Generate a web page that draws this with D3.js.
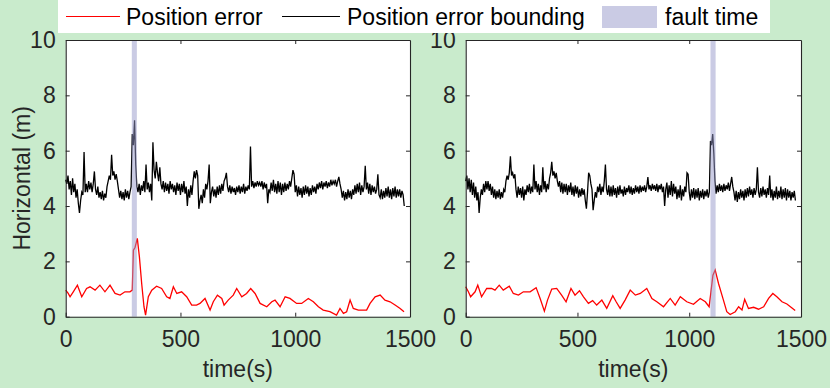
<!DOCTYPE html>
<html>
<head>
<meta charset="utf-8">
<script src="https://cdn.jsdelivr.net/npm/d3@7"></script>
<style>
  body { margin: 0; background: #c9ebcc; }
  svg text { font-family: "Liberation Sans", Arial, sans-serif; }
</style>
</head>
<body>
<div id="chart"></div>
<script>
"use strict";

// ---- data ----
var xTicks = [0, 500, 1000, 1500];
var yTicks = [0, 2, 4, 6, 8, 10];
var legendLabels = ["Position error", "Position error bounding", "fault time"];

var boundStep = 5; // seconds between bounding samples

// left panel, bounding (fault near 300 s)
var boundLeft = [
  4.95, 4.8, 5.1, 4.6, 4.9, 4.4, 5.0, 4.5, 4.8, 4.3,
  4.6, 4.1, 3.75, 4.2, 4.5, 4.4, 5.95, 4.5, 4.8, 4.5,
  4.9, 4.6, 4.85, 4.5, 4.8, 5.25, 4.6, 4.4, 4.7, 4.3,
  4.5, 4.25, 4.55, 4.2, 4.45, 4.3, 4.7, 4.9, 5.1, 4.95,
  5.85, 5.1, 5.25, 4.95, 5.15, 4.9, 4.6, 4.3, 4.55, 4.25,
  4.5, 4.2, 4.6, 4.3, 4.55, 4.25, 4.5, 4.7, 6.6, 6.2,
  7.1, 5.5, 4.7, 4.5, 4.8, 4.4, 4.75, 4.55, 4.9, 4.5,
  5.5, 4.6, 4.85, 4.5, 4.8, 4.2, 6.3, 5.3, 5.0, 5.6,
  5.2, 4.9, 5.4, 4.8, 4.6, 4.9, 4.5, 4.85, 4.55, 4.8,
  4.45, 4.9, 4.6, 4.8, 4.5, 4.75, 4.4, 4.85, 4.55, 4.8,
  4.4, 4.8, 4.5, 4.9, 4.45, 4.7, 4.0, 4.6, 4.3, 4.75,
  4.4, 4.9, 5.25, 5.0, 5.3, 5.1, 3.9, 4.2, 4.4, 4.1,
  4.6, 4.3, 4.8, 4.6, 4.9, 5.5, 4.1, 4.5, 4.7, 4.35,
  4.6, 4.3, 4.7, 4.4, 4.75, 4.45, 4.8, 4.55, 4.9, 5.0,
  5.2, 4.7, 4.5, 4.75, 4.45, 4.7, 4.5, 4.65, 4.4, 4.7,
  4.5, 4.75, 4.45, 4.7, 4.5, 4.8, 4.45, 4.7, 4.55, 4.75,
  4.6, 6.15, 4.7, 4.9, 4.65, 4.85, 4.7, 4.9, 4.75, 4.85,
  4.7, 4.9, 4.6, 4.85, 4.65, 4.8, 4.1, 4.6, 4.5, 4.85,
  4.55, 4.95, 4.5, 4.8, 4.45, 4.9, 4.5, 4.85, 4.4, 4.8,
  4.5, 4.85, 4.55, 4.8, 4.6, 4.9, 4.7, 5.0, 5.3, 5.15,
  4.5, 4.75, 4.35, 4.7, 4.4, 4.65, 4.3, 4.7, 4.4, 4.75,
  4.45, 4.7, 4.35, 4.65, 4.4, 4.75, 4.5, 4.7, 4.45, 4.8,
  4.6, 4.85, 4.65, 4.9, 4.6, 4.85, 4.7, 4.9, 4.65, 4.85,
  4.7, 4.95, 4.75, 4.9, 4.8, 4.95, 4.7, 4.9, 5.05, 4.8,
  4.6, 4.3, 4.55, 4.2, 4.5, 4.25, 4.6, 4.3, 4.55, 4.25,
  4.6, 4.4, 4.75, 4.45, 4.8, 4.5, 4.85, 4.4, 4.75, 4.5,
  4.7, 5.45, 4.6, 4.85, 4.45, 4.8, 4.4, 4.75, 4.5, 4.7,
  4.45, 4.6, 5.15, 4.4, 4.3, 4.6, 4.25, 4.55, 4.3, 4.65,
  4.35, 4.7, 4.3, 4.6, 4.25, 4.65, 4.35, 4.7, 4.3, 4.6,
  4.35, 4.6, 4.3, 4.55, 4.4, 4.0
];

// right panel, bounding (fault near 1100 s)
var boundRight = [
  4.9, 5.1, 4.6, 5.0, 4.5, 4.95, 4.4, 4.85, 4.3, 4.7,
  4.2, 4.5, 3.75, 4.3, 4.6, 4.4, 4.8, 4.5, 4.9, 4.6,
  4.9, 4.55, 4.8, 4.4, 4.7, 4.3, 4.6, 4.25, 4.55, 4.3,
  4.6, 4.25, 4.5, 4.3, 4.6, 4.5, 4.9, 5.1, 4.95, 5.2,
  5.8, 5.1, 5.2, 5.0, 5.15, 4.6, 4.3, 4.7, 4.4, 4.65,
  4.3, 4.7, 4.2, 4.6, 4.4, 4.75, 4.5, 4.8, 4.45, 4.7,
  4.5, 5.5, 4.6, 4.9, 4.5, 4.8, 4.4, 4.75, 4.5, 5.4,
  4.6, 4.9, 4.5, 4.8, 4.6, 5.0, 5.2, 5.6, 5.1, 5.25,
  5.0, 5.2, 4.9, 4.7, 4.9, 4.5, 4.85, 4.45, 4.8, 4.5,
  4.8, 4.4, 4.75, 4.5, 4.85, 4.4, 4.7, 4.35, 4.75, 4.45,
  4.7, 4.3, 4.6, 4.35, 4.65, 4.4, 4.6, 4.2, 3.9, 4.5,
  5.2, 5.1, 4.8, 4.6, 3.85, 4.2, 4.5, 4.3, 4.7, 4.5,
  4.8, 4.4, 4.7, 4.5, 4.9, 5.5, 4.6, 4.4, 4.75, 4.35,
  4.7, 4.35, 4.75, 4.4, 4.65, 4.3, 4.7, 4.4, 4.75, 4.45,
  4.6, 4.35, 4.7, 4.4, 4.65, 4.5, 4.75, 4.45, 4.7, 4.4,
  4.65, 4.45, 4.75, 4.5, 4.7, 4.45, 4.75, 4.5, 4.7, 4.55,
  4.75, 4.5, 4.7, 5.05, 4.6, 4.75, 4.55, 4.8, 4.6, 4.75,
  4.55, 4.8, 4.5, 4.75, 4.6, 4.8, 4.5, 4.7, 4.0, 4.6,
  4.85, 4.3, 4.75, 4.4, 4.9, 4.35, 4.8, 4.45, 4.7, 4.25,
  4.6, 4.3, 4.75, 4.2, 4.6, 4.35, 4.7, 4.5, 5.2, 5.15,
  4.5, 4.2, 4.6, 4.3, 4.65, 4.25, 4.6, 4.3, 4.65, 4.2,
  4.55, 4.3, 4.6, 4.25, 4.55, 4.35, 4.6, 4.3, 4.5, 6.35,
  6.2, 6.6, 5.9, 4.9, 4.45, 4.75, 4.5, 4.8, 4.55, 4.75,
  4.5, 4.8, 4.55, 4.75, 4.6, 4.85, 4.55, 4.8, 5.05, 4.7,
  4.5, 4.2, 4.55, 4.15, 4.5, 4.25, 4.6, 4.3, 4.55, 4.2,
  4.6, 4.3, 4.65, 4.35, 4.7, 4.4, 4.6, 4.3, 4.65, 4.4,
  4.6, 5.4, 4.5, 4.3, 4.65, 4.35, 4.7, 4.4, 4.6, 4.3,
  4.65, 4.4, 5.1, 4.3, 4.6, 4.2, 4.55, 4.3, 4.7, 4.25,
  4.55, 4.3, 4.7, 4.25, 4.6, 4.3, 4.65, 4.2, 4.6, 4.3,
  4.55, 4.2, 4.5, 4.3, 4.55, 4.2
];

var errTimeLeft = [
  0, 11, 19, 33, 51, 70, 91, 106, 128, 149, 171, 193, 215, 237, 258, 280, 290,
  295, 302, 312, 321, 331, 341, 348, 360, 375, 396, 418, 440, 454, 469, 484,
  505, 527, 549, 570, 585, 607, 629, 643, 661, 680, 690, 708, 730, 745, 767,
  788, 806, 825, 847, 876, 898, 912, 934, 956, 977, 1006, 1028, 1057, 1079,
  1101, 1122, 1151, 1180, 1195, 1210, 1224, 1239, 1253, 1275, 1297, 1311,
  1326, 1348, 1370, 1391, 1413, 1435, 1457, 1474
];
var errLeft = [
  0.96, 0.84, 0.72, 0.9, 1.14, 0.72, 1.02, 1.08, 0.96, 1.14, 0.9, 1.14, 0.84, 0.78, 0.9, 0.9, 0.96,
  2.4, 2.5, 2.83, 2.17, 1.2, 0.36, 0.06, 0.72, 0.96, 1.1, 1.02, 0.72, 0.66, 1.08, 0.84,
  0.9, 0.72, 0.42, 0.42, 0.48, 0.66, 0.24, 0.54, 0.78, 0.66, 0.42, 0.6, 0.78, 1.02, 0.72,
  0.84, 1.02, 0.84, 0.48, 0.36, 0.54, 0.6, 0.36, 0.72, 0.66, 0.48, 0.48, 0.66, 0.54,
  0.36, 0.24, 0.18, 0.06, 0.3, 0.12, 0.18, 0.6, 0.3, 0.24, 0.24, 0.24,
  0.48, 0.72, 0.78, 0.6, 0.54, 0.42, 0.3, 0.18
];

var errTimeRight = [
  0, 12, 22, 42, 54, 71, 94, 116, 131, 150, 168, 195, 213, 236, 258, 288, 315,
  333, 352, 366, 385, 407, 429, 449, 471, 489, 509, 527, 549, 568, 586, 609,
  631, 658, 673, 691, 713, 736, 759, 781, 810, 833, 855, 885, 915, 937, 960,
  989, 1019, 1049, 1072, 1089, 1098, 1106, 1116, 1131, 1153, 1168, 1183, 1206,
  1221, 1236, 1248, 1265, 1288, 1310, 1333, 1355, 1374, 1392, 1415, 1437, 1474
];
var errRight = [
  1.08, 0.9, 0.72, 0.9, 1.14, 0.72, 1.02, 1.02, 0.96, 1.14, 0.96, 1.1, 0.84, 0.78, 0.9, 0.9, 1.05,
  0.66, 0.2, 0.6, 1.0, 1.02, 0.78, 0.54, 1.02, 0.78, 0.94, 0.72, 0.48, 0.58, 0.42, 0.6,
  0.3, 0.76, 0.54, 0.3, 0.6, 0.96, 0.78, 0.84, 1.02, 0.66, 0.54, 0.36, 0.66, 0.42, 0.72,
  0.54, 0.45, 0.66, 0.54, 0.36, 0.96, 1.5, 1.69, 1.2, 0.6, 0.18, 0.08, 0.18,
  0.36, 0.24, 0.63, 0.3, 0.34, 0.27, 0.36, 0.66, 0.84, 0.72, 0.54, 0.46, 0.22
];

var faultLeft = [288, 310];
var faultRight = [1095, 1118];

// ---- layout ----
var width = 830,
    height = 388,
    plotTop = 40,
    plotBottom = 316.7,
    fontSize = 23,
    textColor = "#262626",
    bandColor = "#9598c9";

var svg = d3.select("#chart").append("svg")
    .attr("width", width)
    .attr("height", height);

svg.append("rect")
    .attr("width", width)
    .attr("height", height)
    .attr("fill", "#c9ebcc");

var panels = [
  { left: 65.7, right: 410, bound: boundLeft, errT: errTimeLeft, err: errLeft, fault: faultLeft, yLabel: true },
  { left: 465.7, right: 801, bound: boundRight, errT: errTimeRight, err: errRight, fault: faultRight, yLabel: false }
];

panels.forEach(function(p) {
  var x = d3.scaleLinear().domain([0, 1500]).range([p.left, p.right]);
  var y = d3.scaleLinear().domain([0, 10]).range([plotBottom, plotTop]);

  var g = svg.append("g");

  // white plot area
  g.append("rect")
      .attr("x", p.left)
      .attr("y", plotTop)
      .attr("width", p.right - p.left)
      .attr("height", plotBottom - plotTop)
      .attr("fill", "#fff");

  var boundLine = d3.line()
      .x(function(d, i) { return x(i * boundStep); })
      .y(function(d) { return y(d); });

  g.append("path")
      .datum(p.bound)
      .attr("d", boundLine)
      .attr("fill", "none")
      .attr("stroke", "#000")
      .attr("stroke-width", 1.3);

  var errLine = d3.line()
      .x(function(d, i) { return x(p.errT[i]); })
      .y(function(d) { return y(d); });

  g.append("path")
      .datum(p.err)
      .attr("d", errLine)
      .attr("fill", "none")
      .attr("stroke", "#ff0000")
      .attr("stroke-width", 1.3);

  // fault time band sits on top of the lines, half transparent
  g.append("rect")
      .attr("x", x(p.fault[0]))
      .attr("y", plotTop)
      .attr("width", x(p.fault[1]) - x(p.fault[0]))
      .attr("height", plotBottom - plotTop)
      .attr("fill", bandColor)
      .attr("opacity", 0.5);

  // axes, ticks point inwards like matlab
  var xAxis = d3.axisBottom(x).tickValues(xTicks).tickFormat(d3.format("d"))
      .tickSizeInner(-4).tickSizeOuter(0).tickPadding(14);
  var xTop = d3.axisTop(x).tickValues(xTicks.slice(1, 3)).tickSizeInner(-4).tickSizeOuter(0).tickFormat("");
  var yAxis = d3.axisLeft(y).tickValues(yTicks).tickSizeInner(-4).tickSizeOuter(0).tickPadding(10);
  var yRight = d3.axisRight(y).tickValues(yTicks.slice(1, 5)).tickSizeInner(-4).tickSizeOuter(0).tickFormat("");

  var axes = [
    g.append("g").attr("transform", "translate(0," + plotBottom + ")").call(xAxis),
    g.append("g").attr("transform", "translate(0," + plotTop + ")").call(xTop),
    g.append("g").attr("transform", "translate(" + p.left + ",0)").call(yAxis),
    g.append("g").attr("transform", "translate(" + p.right + ",0)").call(yRight)
  ];

  axes.forEach(function(a) {
    a.select(".domain").attr("stroke", textColor).attr("stroke-width", 1.1);
    a.selectAll(".tick line").attr("stroke", textColor);
    a.selectAll(".tick text")
        .attr("fill", textColor)
        .style("font-size", fontSize + "px")
        .style("font-family", '"Liberation Sans", Arial, sans-serif');
  });

  // x label
  g.append("text")
      .attr("x", (p.left + p.right) / 2)
      .attr("y", 377)
      .attr("text-anchor", "middle")
      .attr("fill", textColor)
      .style("font-size", fontSize + "px")
      .text("time(s)");

  if (p.yLabel) {
    g.append("text")
        .attr("transform", "translate(30," + (plotTop + plotBottom) / 2 + ")rotate(-90)")
        .attr("text-anchor", "middle")
        .attr("fill", textColor)
        .style("font-size", fontSize + "px")
        .text("Horizontal (m)");
  }
});

// ---- legend across the top ----
var legend = svg.append("g");

legend.append("rect")
    .attr("x", 58)
    .attr("y", 0)
    .attr("width", 712)
    .attr("height", 33)
    .attr("fill", "#fff");

var ly = 16.5;

legend.append("line")
    .attr("x1", 66).attr("x2", 120)
    .attr("y1", ly).attr("y2", ly)
    .attr("stroke", "#ff0000")
    .attr("stroke-width", 1);

legend.append("line")
    .attr("x1", 282).attr("x2", 340)
    .attr("y1", ly).attr("y2", ly)
    .attr("stroke", "#000")
    .attr("stroke-width", 1);

legend.append("rect")
    .attr("x", 602).attr("y", 6)
    .attr("width", 55).attr("height", 22)
    .attr("fill", bandColor)
    .attr("opacity", 0.5);

legend.selectAll("text.item")
    .data(legendLabels)
    .enter().append("text")
    .attr("class", "item")
    .attr("x", function(d, i) { return [126, 347, 665][i]; })
    .attr("y", ly)
    .attr("dy", "0.36em")
    .attr("fill", "#000")
    .style("font-size", fontSize + "px")
    .text(function(d) { return d; });
</script>
</body>
</html>
